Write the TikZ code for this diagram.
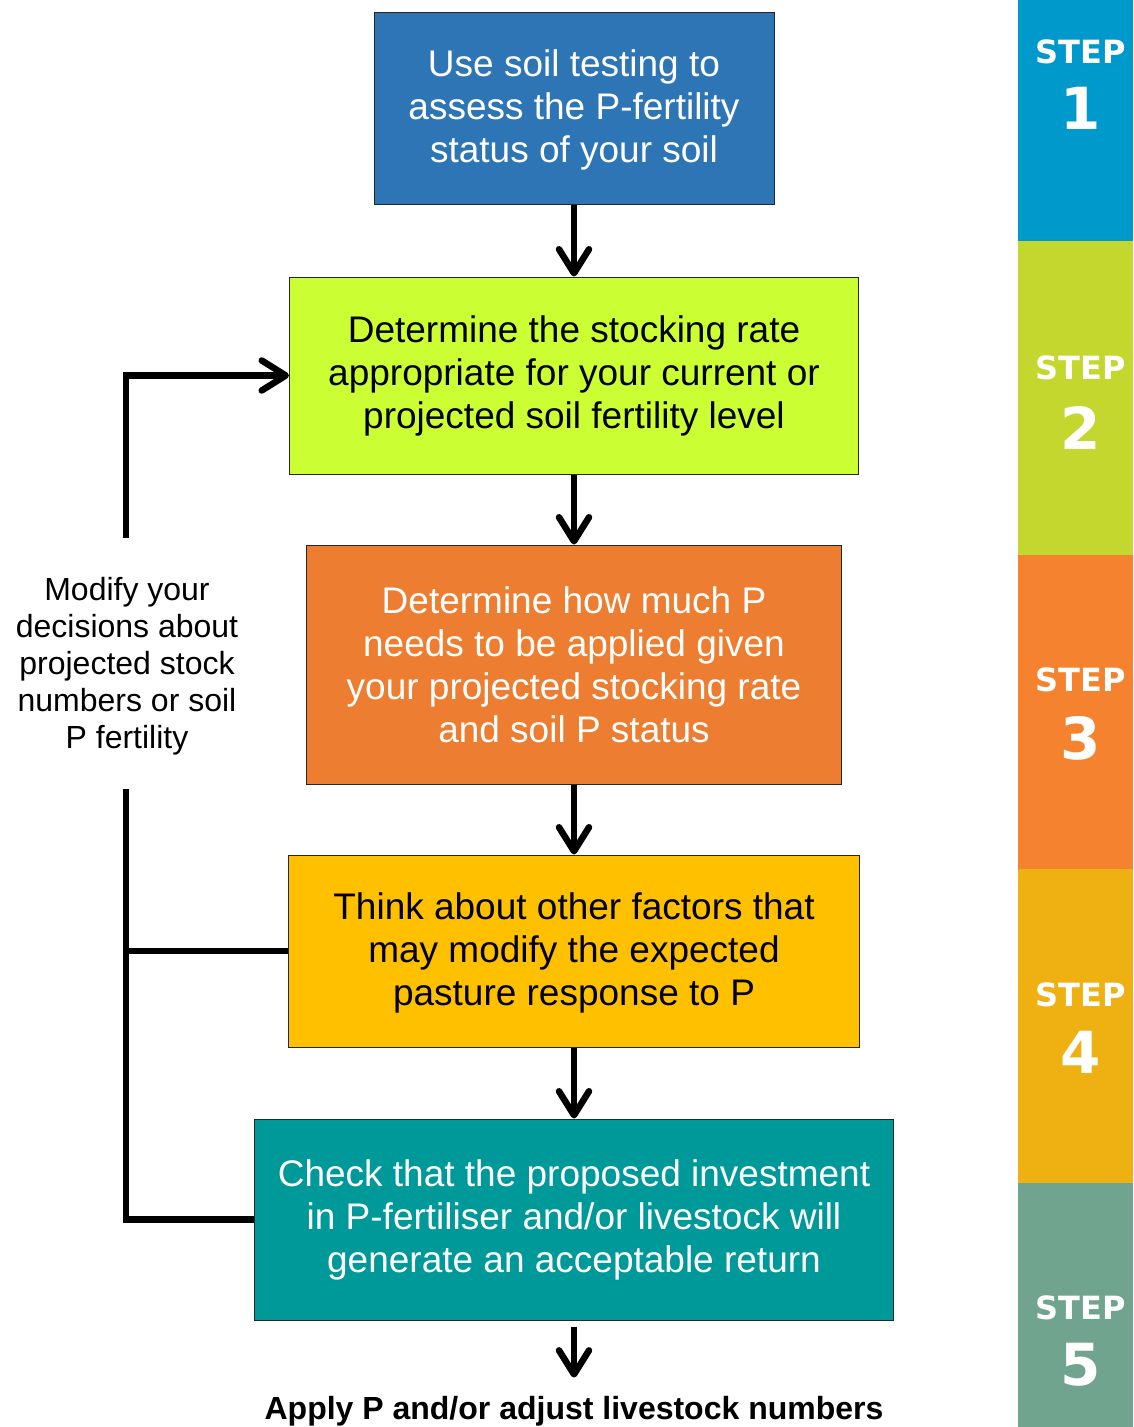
\documentclass[tikz,border=0pt]{standalone}
\usepackage{fontspec}
\setmainfont{Liberation Sans}
\newfontfamily\stepfont{DejaVu Sans}
\usetikzlibrary{arrows.meta}
\definecolor{soilblue}{HTML}{2E75B6}
\definecolor{stockgreen}{HTML}{CCFF33}
\definecolor{rateorange}{HTML}{ED7D31}
\definecolor{factoryellow}{HTML}{FFC000}
\definecolor{returnteal}{HTML}{009999}
\definecolor{stripone}{HTML}{0099CC}
\definecolor{striptwo}{HTML}{C4D72E}
\definecolor{stripthree}{HTML}{F4822F}
\definecolor{stripfour}{HTML}{EEB111}
\definecolor{stripfive}{HTML}{70A48F}

\begin{document}
\begin{tikzpicture}[x=1pt,y=-1pt]
\tikzset{stepbox/.style={draw=black!85,line width=1pt,align=center,inner sep=0pt,
  font=\fontsize{37}{43}\selectfont}}
\tikzset{flow/.style={line width=6.5pt,-{Straight Barb[length=24pt,width=30pt,round]}}}
\tikzset{loopline/.style={line width=6.5pt}}
\tikzset{steplabel/.style={text=white,font=\stepfont\bfseries\fontsize{32}{32}\selectfont}}
\tikzset{stepnum/.style={text=white,font=\stepfont\bfseries\fontsize{58}{58}\selectfont}}
\useasboundingbox (0,0) rectangle (1133,1427);

\node[stepbox,fill=soilblue,text=white,minimum width=400pt,minimum height=192pt] (soil) at (574,108)
  {\strut Use soil testing to\\assess the P-fertility\\status of your soil};
\node[stepbox,fill=stockgreen,minimum width=569pt,minimum height=197pt] (stock) at (574,375.5)
  {Determine the stocking rate\\appropriate for your current or\\projected soil fertility level};
\node[stepbox,fill=rateorange,text=white,minimum width=535pt,minimum height=239pt] (rate) at (574,664.5)
  {Determine how much P\\needs to be applied given\\your projected stocking rate\\and soil P status};
\node[stepbox,fill=factoryellow,minimum width=571pt,minimum height=192pt] (factors) at (574,951)
  {\strut Think about other factors that\\may modify the expected\\pasture response to P};
\node[stepbox,fill=returnteal,text=white,minimum width=639pt,minimum height=201pt] (check) at (574,1219.5)
  {Check that the proposed investment\\in P-fertiliser and/or livestock will\\generate an acceptable return};
\node[font=\bfseries\fontsize{32}{32}\selectfont,anchor=base,inner sep=0pt] (apply) at (574,1419)
  {Apply P and/or adjust livestock numbers};

\node[align=center,font=\fontsize{32}{37}\selectfont] (modify) at (127,666)
  {Modify your\\decisions about\\projected stock\\numbers or soil\\P fertility};
\coordinate (loopup) at (126,538);
\coordinate (loopdown) at (126,789);

\draw[flow] (soil.south) -- (stock.north);
\draw[flow] (stock.south) -- (rate.north);
\draw[flow] (rate.south) -- (factors.north);
\draw[flow] (factors.south) -- (check.north);
\draw[flow] ([yshift=-6pt]check.south) -- ([yshift=18pt]apply.north);

\draw[flow] (loopup) |- (stock.west);
\draw[loopline] (loopdown) |- (check.west);
\draw[loopline] (factors.west) -- (factors.west -| loopdown);

\foreach \col/\top/\bot/\ly/\ny/\num in {stripone/0/241/52/108/1,striptwo/241/555/368/428/2,
    stripthree/555/869/680/738/3,stripfour/869/1183/995/1052/4,stripfive/1183/1427/1308/1365/5}{
  \fill[\col] (1018,\top) rectangle (1133,\bot);
  \node[steplabel] (label\num) at (1081,\ly) {STEP};
  \node[stepnum] (num\num) at (1081,\ny) {\num};
}
\end{tikzpicture}
\end{document}
